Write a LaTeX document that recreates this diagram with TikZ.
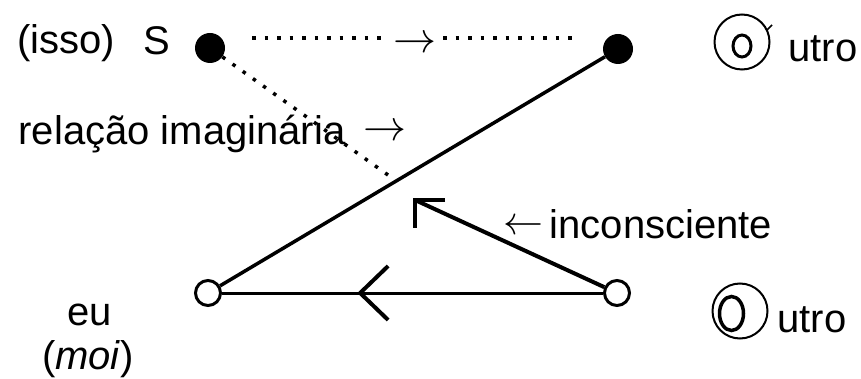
\documentclass[tikz,border=0pt]{standalone}
\usepackage{graphicx}
\usepackage{fontspec}
\setmainfont{Liberation Sans}
\usetikzlibrary{calc}
\newcommand{\bigrarrow}{\scalebox{4.3}{$\rightarrow$}}
\newcommand{\biglarrow}{\scalebox{4.0}{$\leftarrow$}}
\begin{document}
\begin{tikzpicture}[x=1pt,y=-1pt,
  lbl/.style={inner sep=0pt, anchor=base, font=\fontsize{40}{48}\selectfont},
  arrowglyph/.style={inner sep=0pt},
  blackdot/.style={circle, fill=black, inner sep=0pt, minimum size=30pt},
  whitedot/.style={circle, draw=black, fill=white, line width=3pt, inner sep=0pt, minimum size=25pt},
  solidline/.style={line width=3.5pt},
  thinline/.style={line width=3pt},
  headline/.style={line width=4pt, line join=miter},
  dotline/.style={line width=3.5pt, dash pattern=on 3.5pt off 9pt},
  ringsym/.style={circle, draw=black, line width=2pt, inner sep=0pt, minimum size=55pt}
]
\useasboundingbox (0,0) rectangle (861,379);

% the four corners of the schema
\node[blackdot] (S) at (210,48) {};
\node[blackdot] (A) at (618,49) {};
\node[whitedot] (m) at (208,293) {};
\node[whitedot] (O) at (617,293) {};

% imaginary axis a -- a'
\draw[solidline] (m) -- (A);

% Other -> moi, with open chevron
\draw[thinline] (O) -- (m);
\path (m.center) -- (O.center) coordinate[pos=0.372] (chev);
\draw[headline] ([shift={(28,-27)}]chev) -- (chev) -- ([shift={(28,27)}]chev);

% unconscious: Other -> towards S
\coordinate (ihead) at (415,200);
\draw[headline] (O) -- (ihead);
\draw[headline] ([xshift=30pt]ihead) -- (ihead) -- ([yshift=-28pt]ihead);

% dotted S -> a'
\coordinate (h1) at (252,38);
\coordinate (h2) at (382,38);
\coordinate (h3) at (443,38);
\coordinate (h4) at (573,38);
\node[arrowglyph] (harr) at (415,45) {\bigrarrow};
\draw[dotline] (h1) -- (h2);
\draw[dotline] (h3) -- (h4);

% dotted imaginary relation from S
\coordinate (ri) at (388,175);
\draw[dotline] (S) -- (ri);

% ring symbols for the two Others
\node[ringsym] (otop) at (742,42) {};
\draw[line width=3pt] (742,46) ellipse (9 and 11);
\draw[line width=1.5pt] (767,30) -- (772,25);
\node[ringsym] (obot) at (740,311) {};
\draw[line width=3.5pt] (731.5,313.5) ellipse (12 and 17);

% labels
\node[lbl] (isso) at (66,54) {(isso)};
\node[lbl] (Slbl) at (157,55) {S};
\node[lbl] (rel) at (182,145) {relação imaginária};
\node[arrowglyph] (relarr) at (385,133) {\bigrarrow};
\node[lbl] (inc) at (661,238) {inconsciente};
\node[arrowglyph] (incarr) at (523,227) {\biglarrow};
\node[lbl] (eu) at (90,325) {eu};
\node[lbl] (moi) at (88,369) {(\textit{moi})};
\node[lbl] (utop) at (823,62) {utro};
\node[lbl] (ubot) at (812,332) {utro};
\end{tikzpicture}
\end{document}
